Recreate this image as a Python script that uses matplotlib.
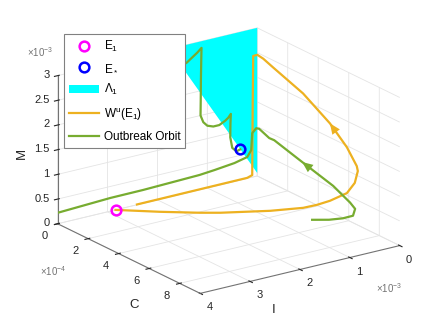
import numpy as np
import matplotlib
matplotlib.use('Agg')
import matplotlib.pyplot as plt
from mpl_toolkits.mplot3d.art3d import Poly3DCollection
from mpl_toolkits.mplot3d import proj3d

plt.rcParams['font.family'] = ['Liberation Sans', 'DejaVu Sans']
plt.rcParams['mathtext.fontset'] = 'custom'
plt.rcParams['mathtext.rm'] = 'Liberation Sans'
plt.rcParams['mathtext.it'] = 'Liberation Sans:italic'
plt.rcParams['grid.color'] = '#e4e4e4'
plt.rcParams['grid.linewidth'] = 0.6

# axis ranges / ticks
I_lim = (0, 4e-3)
C_lim = (0, 9.34e-4)
M_lim = (0, 3e-3)
I_ticks = [0, 1e-3, 2e-3, 3e-3, 4e-3]
C_ticks = [0, 2e-4, 4e-4, 6e-4, 8e-4]
M_ticks = [0, 0.5e-3, 1e-3, 1.5e-3, 2e-3, 2.5e-3, 3e-3]
I_ticklabels = ['0', '1', '2', '3', '4']
C_ticklabels = ['0', '2', '4', '6', '8']
M_ticklabels = ['0', '0.5', '1', '1.5', '2', '2.5', '3']

# equilibria (I, C, M)
E1 = (2.84e-3, 0.0, 0.0)
E_star = (0.34e-3, 0.0, 0.621e-3)

# plane Lambda_1 (corners)
lam_I = [0.0, 0.0, 1.764e-3]
lam_C = [0.0, 0.0, 0.0]
lam_M = [0.06e-3, 3e-3, 3e-3]

# unstable manifold of E1
wu_I = np.array([2.84, 2.294, 1.787, 1.506, 0.782, 0.259, 0.12, 0.08, 0.04, 0.02, 0.02,
                 0.02, 0.02, 0.02, 0.02, 0.02, 0.02, 0.02, 0.08, 0.09, 0.1, 0.2, 2.41]) * 1e-3
wu_C = np.array([0.0, 1.13, 2.07, 2.52, 3.42, 3.86, 4.31, 5.03, 6.01, 6.46, 6.66,
                 6.59, 5.94, 4.83, 3.07, 1.11, 0.46, 0.07, 0.0, 0.0, 0.0, 0.0, 0.0]) * 1e-4
wu_M = np.array([0.0, 0.0, 0.0, 0.0, 0.0, 0.0, 0.095, 0.276, 0.57, 0.84, 1.11,
                 1.20, 1.485, 1.80, 2.14, 2.37, 2.45, 2.47, 2.45, 1.5, 0.042, 0.01, 0.006]) * 1e-3

# outbreak orbit, first part (up to leaving the box at I = 4e-3)
ob1_I = np.array([0.468, 0.24, 0.012, 0.01, 0.01, 0.01, 0.01, 0.01, 0.01, 0.01, 0.0,
                  0.02, 0.1, 0.12, 0.2, 0.456, 0.856, 1.156, 2.288, 2.944, 4.0]) * 1e-3
ob1_C = np.array([5.13, 5.49, 5.66, 6.31, 6.45, 6.12, 5.01, 2.98, 1.15, 0.82, 0.13,
                  0.0, 0.0, 0.0, 0.0, 0.0, 0.0, 0.0, 0.0, 0.0, 0.0]) * 1e-4
ob1_M = np.array([0.0, 0.0, 0.0, 0.15, 0.31, 0.387, 0.558, 0.735, 0.90, 0.894, 0.975,
                  0.972, 0.891, 0.552, 0.432, 0.372, 0.327, 0.30, 0.27, 0.267, 0.222]) * 1e-3

# outbreak orbit, second part (re-entering, damped oscillation to E*)
ob2_I = np.array([2.2, 1.8, 1.412, 1.2, 1.116, 1.12, 1.128, 1.132, 1.136, 1.08, 1.0, 0.88,
                  0.76, 0.64, 0.58, 0.528, 0.536, 0.54, 0.50, 0.416, 0.34]) * 1e-3
ob2_C = np.zeros(len(ob2_I))
ob2_M = np.array([2.34, 2.49, 2.637, 2.79, 2.865, 2.70, 2.25, 1.80, 1.50, 1.35, 1.26, 1.215,
                  1.215, 1.275, 1.32, 1.386, 1.20, 0.915, 0.69, 0.60, 0.621]) * 1e-3

orange = '#EDB120'
green = '#77AC30'

fig = plt.figure(figsize=(4.43, 3.32), dpi=100)
ax = fig.add_axes([0.0061, 0.0027, 1.0, 1.0], projection='3d', proj_type='ortho')
ax.computed_zorder = False
ax.view_init(elev=20, azim=55)
ax.set_box_aspect((1, 1.02, 0.647), zoom=1.117)

ax.set_xlim(*I_lim)
ax.set_ylim(*C_lim)
ax.set_zlim(*M_lim)

for axis in (ax.xaxis, ax.yaxis, ax.zaxis):
    axis.set_pane_color((1, 1, 1, 1))
    axis.pane.set_edgecolor('none')
    axis.line.set_color('0.45')
    axis.line.set_linewidth(0.8)

plane = Poly3DCollection([list(zip(lam_I, lam_C, lam_M))], facecolor='cyan',
                         edgecolor='none', label=r'$\Lambda_1$', zorder=1)
ax.add_collection3d(plane)

ax.plot(wu_I, wu_C, wu_M, color=orange, lw=1.6, zorder=3, label=r'W$^{\mathrm{u}}$(E$_1$)')
ax.plot(ob1_I, ob1_C, ob1_M, color=green, lw=1.6, zorder=4, label='Outbreak Orbit')
ax.plot(ob2_I, ob2_C, ob2_M, color=green, lw=1.6, zorder=4)

h_e1, = ax.plot([E1[0]], [E1[1]], [E1[2]], 'o', mfc='none', mec='magenta', ms=7, mew=1.8,
                zorder=5, label='E$_1$')
h_es, = ax.plot([E_star[0]], [E_star[1]], [E_star[2]], 'o', mfc='none', mec='blue', ms=7,
                mew=1.8, zorder=5, label='E$_*$')

ax.set_xticks(I_ticks)
ax.set_xticklabels(I_ticklabels)
ax.set_yticks(C_ticks)
ax.set_yticklabels(C_ticklabels)
ax.set_zticks(M_ticks)
ax.set_zticklabels(M_ticklabels)
ax.tick_params(labelsize=8, colors='0.15', pad=0)
ax.zaxis.set_tick_params(pad=-5)
for lab in ax.get_xticklabels() + ax.get_yticklabels():
    lab.set_verticalalignment('center')
for lab in ax.get_zticklabels():
    lab.set_verticalalignment('center')
    lab.set_horizontalalignment('right')


# flow-direction arrowheads, placed on the curves via the 3D projection
def arrow_on(xs, ys, zs, k, frac, color):
    proj = ax.get_proj()
    x0, y0, _ = proj3d.proj_transform(xs[k], ys[k], zs[k], proj)
    x1, y1, _ = proj3d.proj_transform(xs[k + 1], ys[k + 1], zs[k + 1], proj)
    xm, ym = x0 + frac * (x1 - x0), y0 + frac * (y1 - y0)
    ax.annotate('', xy=(xm, ym), xytext=(x0, y0),
                arrowprops=dict(arrowstyle='-|>,head_length=0.7,head_width=0.3',
                                color=color, lw=0, mutation_scale=11,
                                shrinkA=0, shrinkB=0))


arrow_on(wu_I, wu_C, wu_M, 12, 1.0, orange)
arrow_on(ob1_I, ob1_C, ob1_M, 6, 1.0, green)

handles = [h_e1, h_es, plane, ax.lines[0], ax.lines[1]]
leg = ax.legend(handles=handles, loc='upper left', bbox_to_anchor=(64 / 443, 1 - 34 / 332),
                bbox_transform=fig.transFigure, fontsize=8.5, frameon=True, fancybox=False,
                framealpha=1, edgecolor='0.5', labelspacing=0.7, handlelength=2.6,
                handletextpad=0.4, borderaxespad=0, borderpad=0.4)
leg.get_frame().set_linewidth(0.8)

# axis names and exponent multipliers
for txt, x, y, rot in [('M', 22, 153, 90), ('C', 134, 305, 0), ('I', 274, 310, 0)]:
    fig.text(x / 443, 1 - y / 332, txt, fontsize=9.5, color='0.15', rotation=rot,
             ha='center', va='center')
for txt, x, y in [(r'$\times10^{-3}$', 27, 52), (r'$\times10^{-4}$', 40, 271),
                  (r'$\times10^{-3}$', 376, 288)]:
    fig.text(x / 443, 1 - y / 332, txt, fontsize=7, color='0.45', va='center', ha='left')

fig.savefig('out.png', dpi=100)
